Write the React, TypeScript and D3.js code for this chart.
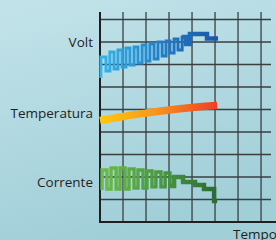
import * as d3 from "d3";

// time (grid units) / value (grid units)
const VOLT_T = [0.04, 0.04, 0.26, 0.43, 0.61, 0.78, 0.96, 1.13, 1.3, 1.48, 1.65, 1.83, 2.0, 2.17, 2.35, 2.52, 2.7, 2.87, 3.04, 3.22, 3.39, 3.57, 3.74, 3.91, 4.65, 5.13];
const VOLT_V = [6.4, 7.33, 6.71, 7.56, 6.8, 7.64, 6.89, 7.73, 6.98, 7.78, 7.07, 7.87, 7.16, 7.91, 7.24, 8.0, 7.38, 8.04, 7.51, 8.13, 7.64, 8.22, 7.91, 8.36, 8.16, 8.16];

const TEMP_T = [0, 1, 2, 3, 4, 5.09];
const TEMP_V = [4.51, 4.69, 4.84, 4.98, 5.09, 5.18];

const CORR_T = [0.09, 0.09, 0.3, 0.48, 0.7, 0.87, 1.09, 1.26, 1.48, 1.65, 1.87, 2.04, 2.26, 2.43, 2.65, 2.83, 3.04, 3.22, 3.61, 4.13, 4.52, 4.96, 5.09];
const CORR_V = [1.42, 2.31, 1.47, 2.4, 1.47, 2.4, 1.47, 2.36, 1.51, 2.31, 1.51, 2.27, 1.56, 2.22, 1.56, 2.18, 1.6, 2.0, 1.78, 1.64, 1.47, 0.93, 0.93];

// where the meander turns into broad steps
const VOLT_TAIL = 3.57;
const CORR_TAIL = 3.04;

const LABELS = ["Volt", "Temperatura", "Corrente"];
const LABEL_V = [8, 4.85, 1.75];

const X_GRID = [1, 2, 3, 4, 5, 6, 7];
const Y_GRID = [1, 2, 3, 4, 5, 6, 7, 8, 9];

const W = 276;
const H = 240;

export default function App() {
  const x = d3.scaleLinear().domain([0, 7.65]).range([100, 276]);
  const y = d3.scaleLinear().domain([0, 9]).range([222, 19.5]);

  const mk = (ts: number[], vs: number[], curve: d3.CurveFactory, from = -1) =>
    d3
      .line<[number, number]>()
      .x((d) => x(d[0]))
      .y((d) => y(d[1]))
      .curve(curve)(
        ts.map((t, i) => [t, vs[i]] as [number, number]).filter((d) => d[0] >= from)
      ) ?? "";

  const volt = mk(VOLT_T, VOLT_V, d3.curveStepAfter);
  const voltTail = mk(VOLT_T, VOLT_V, d3.curveStepAfter, VOLT_TAIL);
  const corr = mk(CORR_T, CORR_V, d3.curveStepAfter);
  const corrTail = mk(CORR_T, CORR_V, d3.curveStepAfter, CORR_TAIL);
  const temp = mk(TEMP_T, TEMP_V, d3.curveMonotoneX);

  const font = "'Open Sans', sans-serif";

  return (
    <svg width={W} height={H} style={{ position: "absolute", left: 0, top: 0 }}>
      <defs>
        <linearGradient id="bg" x1="0" y1="0" x2="0.3" y2="1">
          <stop offset="0" stopColor="#c3e3ea" />
          <stop offset="1" stopColor="#a1cfd8" />
        </linearGradient>
        <linearGradient id="gVolt" gradientUnits="userSpaceOnUse" x1={x(0)} x2={x(5.1)} y1={0} y2={0}>
          <stop offset="0" stopColor="#35b6ea" />
          <stop offset="0.55" stopColor="#1e7cc8" />
          <stop offset="1" stopColor="#1d56a6" />
        </linearGradient>
        <linearGradient id="gTemp" gradientUnits="userSpaceOnUse" x1={x(0)} x2={x(5.1)} y1={0} y2={0}>
          <stop offset="0" stopColor="#ffc80a" />
          <stop offset="0.45" stopColor="#f8981d" />
          <stop offset="1" stopColor="#ef3e26" />
        </linearGradient>
        <linearGradient id="gCorr" gradientUnits="userSpaceOnUse" x1={x(0)} x2={x(5.1)} y1={0} y2={0}>
          <stop offset="0" stopColor="#6cbd4a" />
          <stop offset="0.5" stopColor="#4a9a40" />
          <stop offset="1" stopColor="#2c6a36" />
        </linearGradient>
      </defs>
      <rect width={W} height={H} fill="url(#bg)" />

      {Y_GRID.map((v) => (
        <line key={"h" + v} x1={x(0)} x2={271} y1={y(v)} y2={y(v)} stroke="#3b3f40" strokeWidth={1.3} />
      ))}
      {X_GRID.map((t) => (
        <line key={"v" + t} x1={x(t)} x2={x(t)} y1={12} y2={y(0)} stroke="#3b3f40" strokeWidth={1.3} />
      ))}
      <line x1={x(0)} x2={x(0)} y1={12} y2={y(0) + 1} stroke="#231f20" strokeWidth={2} />
      <line x1={x(0)} x2={W} y1={y(0)} y2={y(0)} stroke="#231f20" strokeWidth={2} />

      <path d={volt} fill="none" stroke="url(#gVolt)" strokeWidth={3} strokeLinejoin="miter" />
      <path d={voltTail} fill="none" stroke="url(#gVolt)" strokeWidth={4.5} strokeLinejoin="miter" />
      <path d={temp} fill="none" stroke="url(#gTemp)" strokeWidth={7.5} />
      <path d={corr} fill="none" stroke="url(#gCorr)" strokeWidth={3.4} strokeLinejoin="miter" />
      <path d={corrTail} fill="none" stroke="url(#gCorr)" strokeWidth={4.5} strokeLinejoin="miter" />

      {LABELS.map((l, i) => (
        <text
          key={l}
          x={93}
          y={y(LABEL_V[i])}
          dy="0.35em"
          textAnchor="end"
          fontFamily={font}
          fontSize={13.5}
          fill="#231f20"
        >
          {l}
        </text>
      ))}
      <text x={233} y={239} fontFamily={font} fontSize={13.5} fill="#231f20">
        Tempo
      </text>
    </svg>
  );
}
